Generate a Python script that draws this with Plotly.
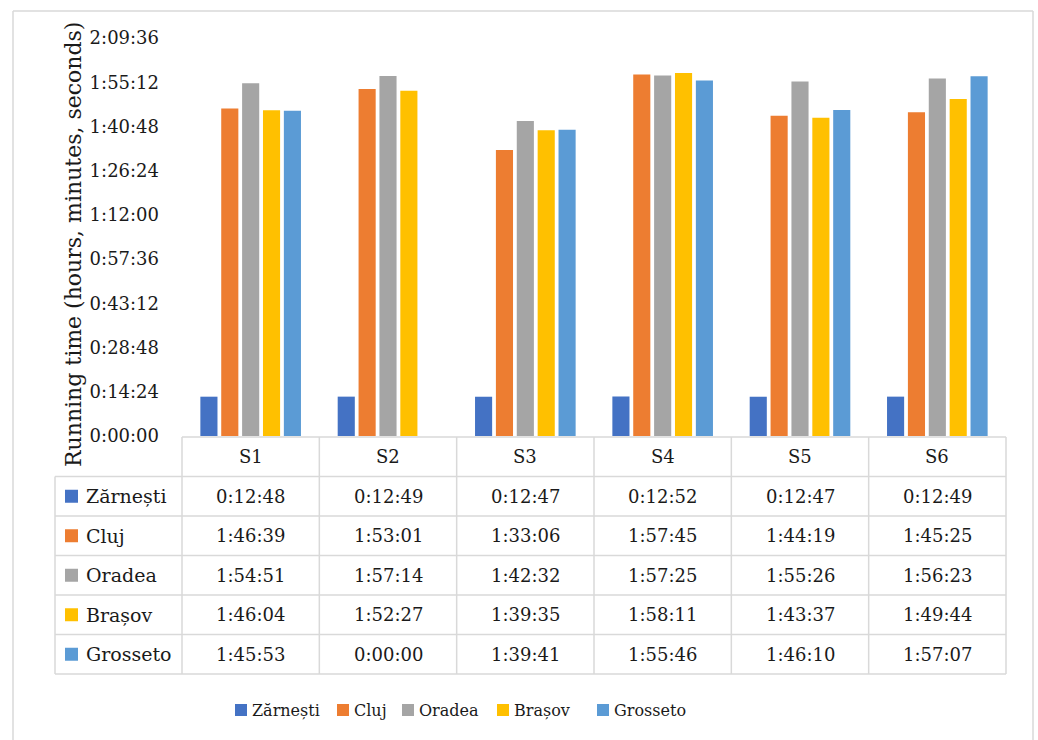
import plotly.graph_objects as go

# ---------------- data ----------------
categories = ["S1", "S2", "S3", "S4", "S5", "S6"]
series_names = ["Zărnești", "Cluj", "Oradea", "Brașov", "Grosseto"]
zarnesti = ["0:12:48", "0:12:49", "0:12:47", "0:12:52", "0:12:47", "0:12:49"]
cluj     = ["1:46:39", "1:53:01", "1:33:06", "1:57:45", "1:44:19", "1:45:25"]
oradea   = ["1:54:51", "1:57:14", "1:42:32", "1:57:25", "1:55:26", "1:56:23"]
brasov   = ["1:46:04", "1:52:27", "1:39:35", "1:58:11", "1:43:37", "1:49:44"]
grosseto = ["1:45:53", "0:00:00", "1:39:41", "1:55:46", "1:46:10", "1:57:07"]
series_values = [zarnesti, cluj, oradea, brasov, grosseto]
colors = ["#4472C4", "#ED7D31", "#A5A5A5", "#FFC000", "#5B9BD5"]
y_tick_labels = ["0:00:00", "0:14:24", "0:28:48", "0:43:12", "0:57:36",
                 "1:12:00", "1:26:24", "1:40:48", "1:55:12", "2:09:36"]
y_title = "Running time (hours, minutes, seconds)"


def hms(s):
    h, m, sec = (int(p) for p in s.split(":"))
    return h * 3600 + m * 60 + sec


# ---------------- layout constants (pixels) ----------------
W, H = 1038, 740
FONT = "DejaVu Serif"
TXT = "#1a1a1a"
GRID = "#d9d9d9"
PX0, PX1 = 182, 1006          # plot area left/right
PY_TOP, PY_BOT = 38, 436      # plot area top/bottom
LABEL_X0 = 55                 # left edge of row-label column
HEADER_H = 39.5
ROW_H = 39.5
TABLE_TOP = 437
LEGEND_Y = 710
LEGEND_SQ_X = [235, 337, 402, 497, 597]
SQ = 12


def px(x):
    return x / W


def py(y):
    return 1 - y / H


fig = go.Figure()
for name, vals, col in zip(series_names, series_values, colors):
    fig.add_trace(go.Bar(
        x=list(range(len(categories))),
        y=[hms(v) for v in vals],
        name=name,
        marker=dict(color=col, line=dict(width=0)),
        customdata=vals,
        hovertemplate=name + " %{customdata}<extra></extra>",
    ))

shapes = []
annotations = []

frame = dict(color=GRID, width=1.5)
# outer chart frame (left, top, right; bottom is below the visible page)
shapes.append(dict(type="line", xref="paper", yref="paper",
                   x0=px(13), x1=px(13), y0=0, y1=py(11), line=frame))
shapes.append(dict(type="line", xref="paper", yref="paper",
                   x0=px(13), x1=px(1033), y0=py(11), y1=py(11), line=frame))
shapes.append(dict(type="line", xref="paper", yref="paper",
                   x0=px(1033), x1=px(1033), y0=0, y1=py(11), line=frame))

ncat = len(categories)
colw = (PX1 - PX0) / ncat
row_tops = [TABLE_TOP + HEADER_H + i * ROW_H for i in range(len(series_names) + 1)]
table_bottom = row_tops[-1]
line_style = dict(color=GRID, width=1.5)

# header row
shapes.append(dict(type="line", xref="paper", yref="paper",
                   x0=px(PX0), x1=px(PX1), y0=py(TABLE_TOP), y1=py(TABLE_TOP), line=line_style))
# horizontal row lines
for yy in row_tops:
    shapes.append(dict(type="line", xref="paper", yref="paper",
                       x0=px(LABEL_X0), x1=px(PX1), y0=py(yy), y1=py(yy), line=line_style))
# vertical lines
for i in range(ncat + 1):
    xx = PX0 + i * colw
    shapes.append(dict(type="line", xref="paper", yref="paper",
                       x0=px(xx), x1=px(xx), y0=py(TABLE_TOP), y1=py(table_bottom), line=line_style))
shapes.append(dict(type="line", xref="paper", yref="paper",
                   x0=px(LABEL_X0), x1=px(LABEL_X0), y0=py(row_tops[0]), y1=py(table_bottom),
                   line=line_style))

# header texts
for i, c in enumerate(categories):
    annotations.append(dict(xref="paper", yref="paper", x=px(PX0 + (i + 0.5) * colw),
                            y=py(TABLE_TOP + HEADER_H / 2), text=c, showarrow=False,
                            font=dict(family=FONT, size=18, color=TXT),
                            xanchor="center", yanchor="middle"))
# row labels and cells
for r, (name, vals, col) in enumerate(zip(series_names, series_values, colors)):
    yc_px = row_tops[r] + ROW_H / 2
    yc = py(yc_px)
    shapes.append(dict(type="rect", xref="paper", yref="paper",
                       x0=px(65), x1=px(65 + SQ + 1), y0=py(yc_px + 6.5), y1=py(yc_px - 6.5),
                       fillcolor=col, line=dict(width=0)))
    annotations.append(dict(xref="paper", yref="paper", x=px(84), y=yc,
                            text=name, showarrow=False,
                            font=dict(family=FONT, size=19, color=TXT),
                            xanchor="left", yanchor="middle"))
    for i, v in enumerate(vals):
        annotations.append(dict(xref="paper", yref="paper", x=px(PX0 + (i + 0.5) * colw), y=yc,
                                text=v, showarrow=False,
                                font=dict(family=FONT, size=18, color=TXT),
                                xanchor="center", yanchor="middle"))

# y-axis title
annotations.append(dict(xref="paper", yref="paper", x=px(73), y=py(245), text=y_title,
                        textangle=-90, showarrow=False,
                        font=dict(family=FONT, size=22, color=TXT),
                        xanchor="center", yanchor="middle"))

# legend (bottom)
for name, col, sx in zip(series_names, colors, LEGEND_SQ_X):
    shapes.append(dict(type="rect", xref="paper", yref="paper",
                       x0=px(sx), x1=px(sx + SQ), y0=py(LEGEND_Y + 6), y1=py(LEGEND_Y - 6),
                       fillcolor=col, line=dict(width=0)))
    annotations.append(dict(xref="paper", yref="paper", x=px(sx + SQ + 3), y=py(LEGEND_Y),
                            text=name, showarrow=False,
                            font=dict(family=FONT, size=16, color=TXT),
                            xanchor="left", yanchor="middle"))

fig.update_layout(
    width=W, height=H,
    margin=dict(l=0, r=0, t=0, b=0),
    paper_bgcolor="white", plot_bgcolor="white",
    barmode="group", bargap=0.24, bargroupgap=0.18,
    showlegend=False,
    shapes=shapes, annotations=annotations,
    xaxis=dict(domain=[px(PX0), px(PX1)], range=[-0.5, ncat - 0.5],
               showticklabels=False, showgrid=False, zeroline=False, showline=False, ticks=""),
    yaxis=dict(domain=[py(PY_BOT), py(PY_TOP)], range=[0, hms(y_tick_labels[-1])],
               tickvals=[hms(t) for t in y_tick_labels], ticktext=y_tick_labels,
               showgrid=False, zeroline=False, showline=False, ticks="",
               ticklabelstandoff=22, automargin=False,
               tickfont=dict(family=FONT, size=18, color=TXT)),
    font=dict(family=FONT, color=TXT),
)

fig.write_html("out.html")
